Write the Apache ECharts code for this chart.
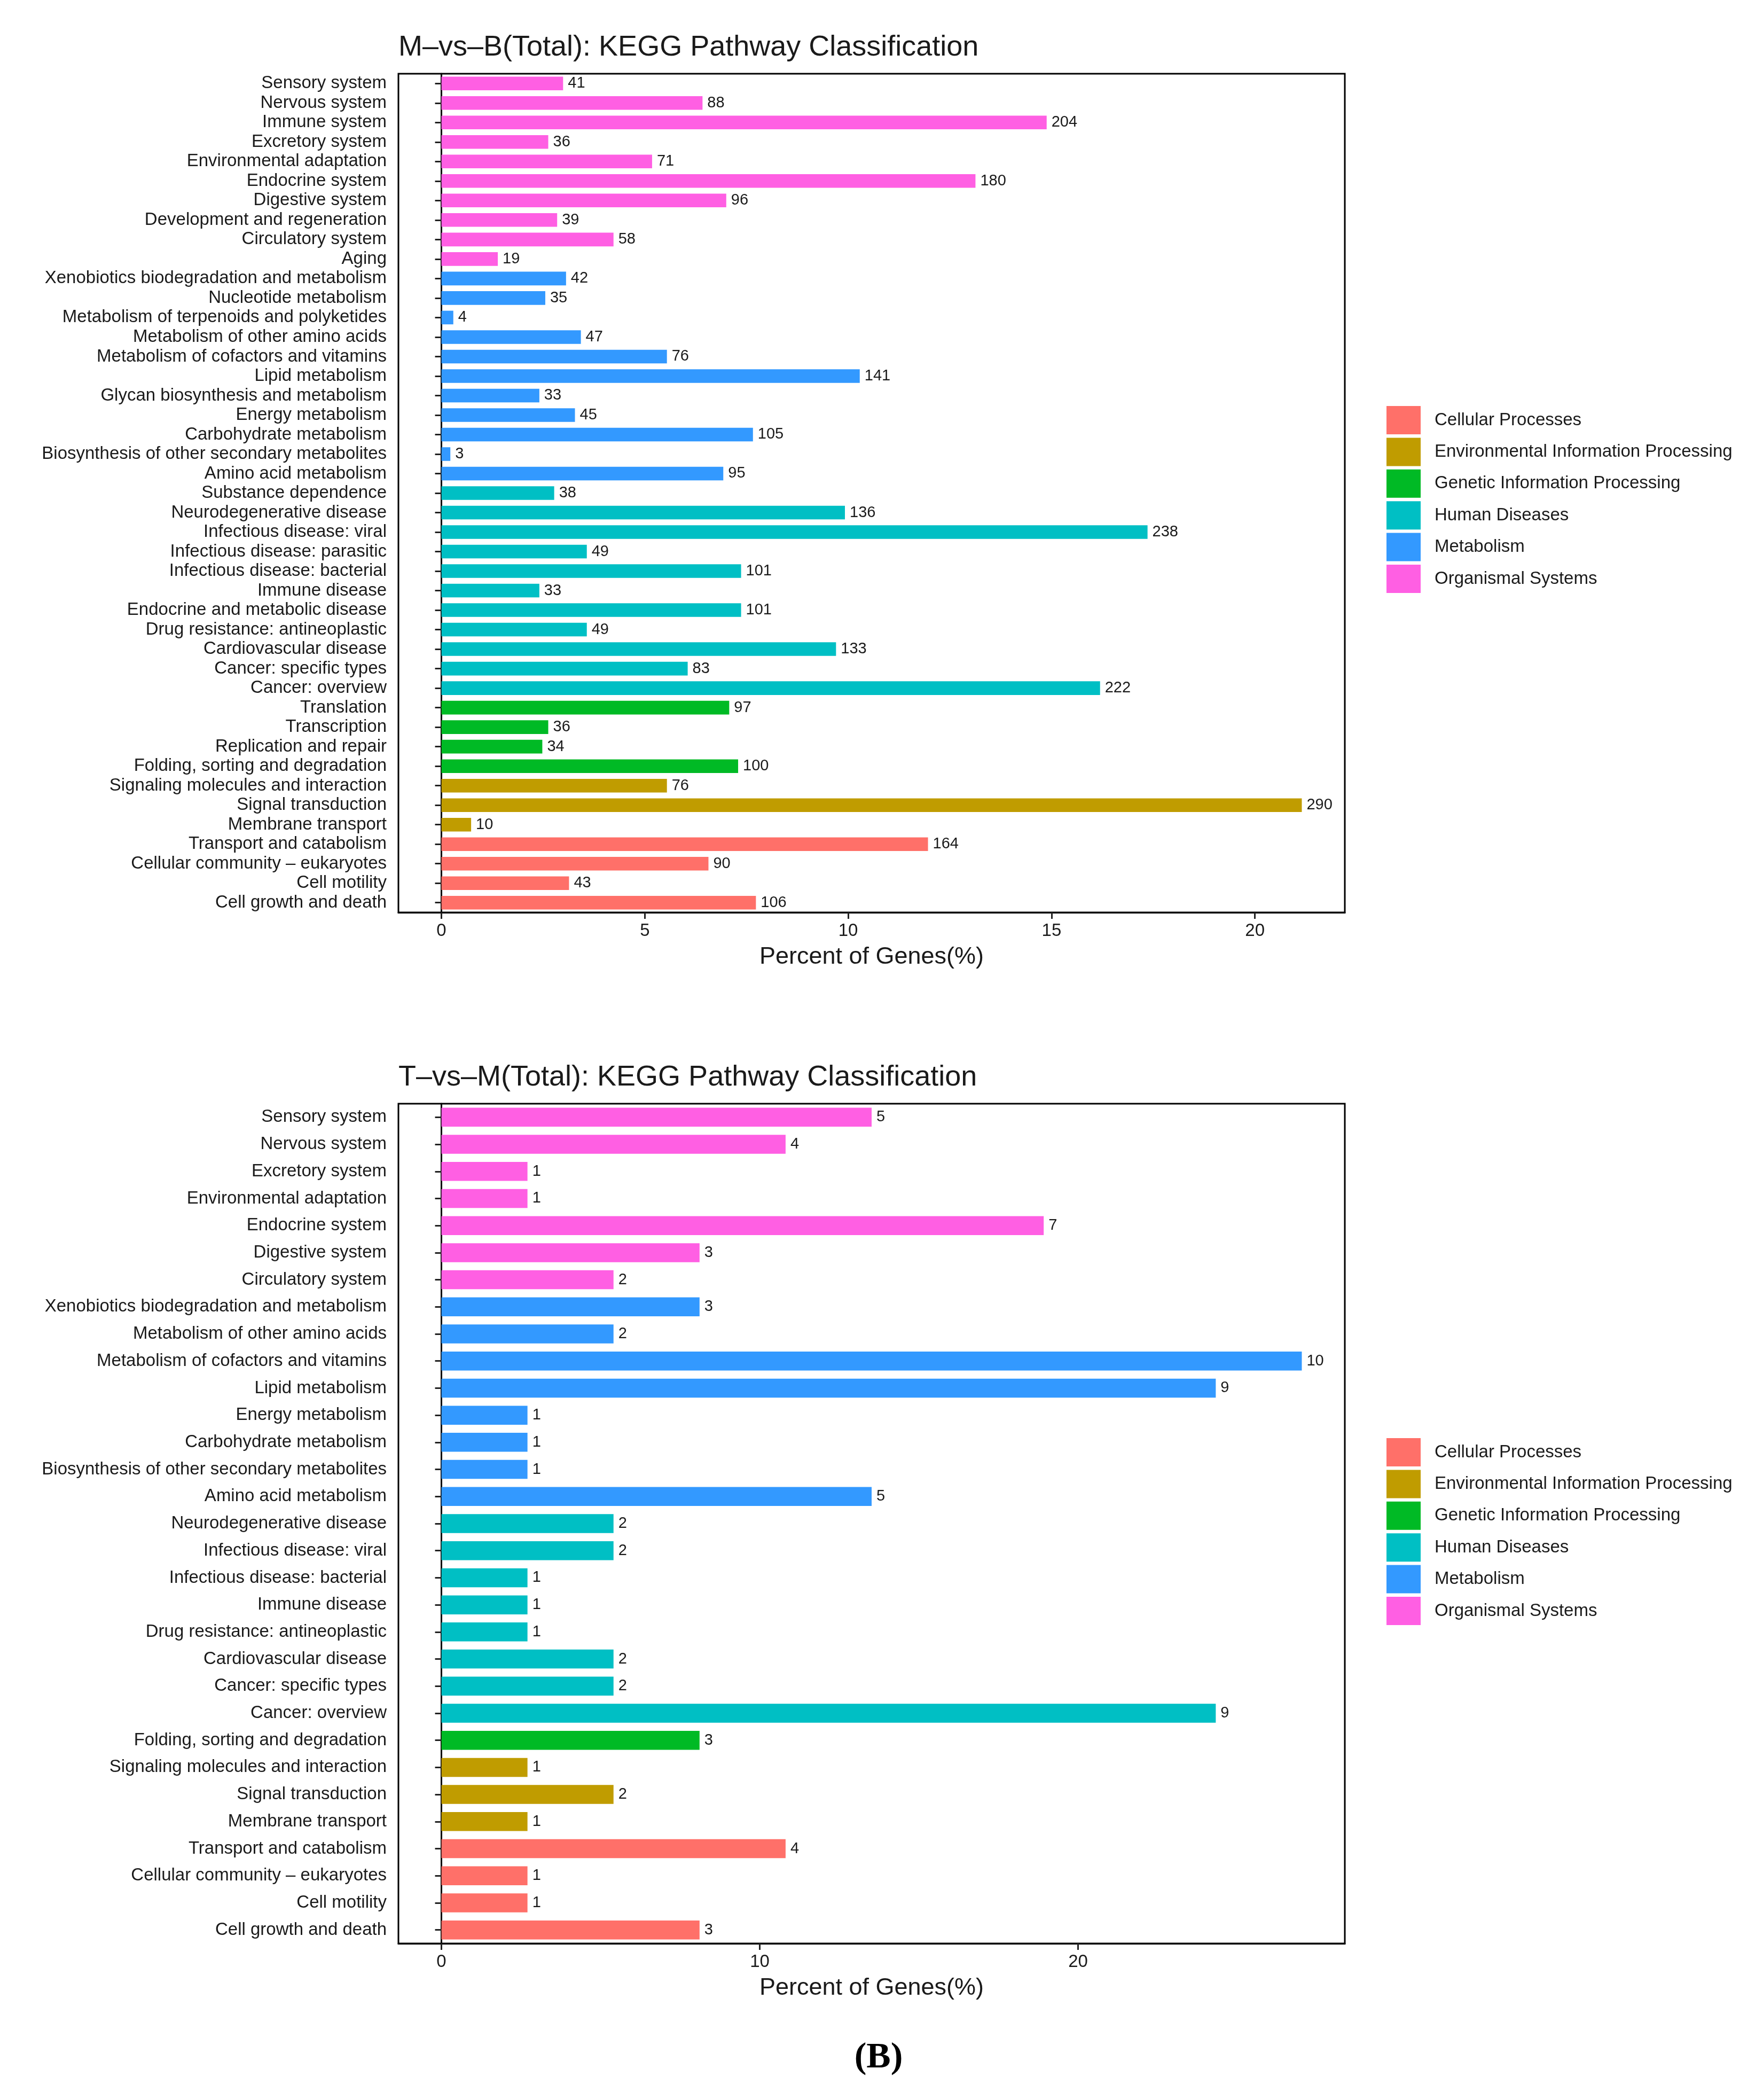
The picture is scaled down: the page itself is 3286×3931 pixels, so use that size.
<!DOCTYPE html>
<html><head><meta charset="utf-8">
<script src="https://cdn.jsdelivr.net/npm/echarts@6/dist/echarts.min.js"></script>
<style>html,body{margin:0;padding:0;background:#fff}#c{width:3286px;height:3931px}</style>
</head><body><div id="c"></div>
<script>
// Legend groups (order as in legend) and colours
const groupCodes = ['CP', 'EIP', 'GIP', 'HD', 'M', 'OS'];
const groupNames = ['Cellular Processes', 'Environmental Information Processing', 'Genetic Information Processing', 'Human Diseases', 'Metabolism', 'Organismal Systems'];
const groupColors = ['#FF7069', '#C09C00', '#00BA25', '#00BFC4', '#3399FF', '#FF5FE3'];

// Chart 1: M-vs-B (top to bottom)
const title1 = 'M\u2013vs\u2013B(Total): KEGG Pathway Classification';
const cats1 = [
  'Sensory system', 'Nervous system', 'Immune system', 'Excretory system', 'Environmental adaptation',
  'Endocrine system', 'Digestive system', 'Development and regeneration', 'Circulatory system', 'Aging',
  'Xenobiotics biodegradation and metabolism', 'Nucleotide metabolism', 'Metabolism of terpenoids and polyketides',
  'Metabolism of other amino acids', 'Metabolism of cofactors and vitamins', 'Lipid metabolism',
  'Glycan biosynthesis and metabolism', 'Energy metabolism', 'Carbohydrate metabolism',
  'Biosynthesis of other secondary metabolites', 'Amino acid metabolism',
  'Substance dependence', 'Neurodegenerative disease', 'Infectious disease: viral', 'Infectious disease: parasitic',
  'Infectious disease: bacterial', 'Immune disease', 'Endocrine and metabolic disease', 'Drug resistance: antineoplastic',
  'Cardiovascular disease', 'Cancer: specific types', 'Cancer: overview',
  'Translation', 'Transcription', 'Replication and repair', 'Folding, sorting and degradation',
  'Signaling molecules and interaction', 'Signal transduction', 'Membrane transport',
  'Transport and catabolism', 'Cellular community \u2013 eukaryotes', 'Cell motility', 'Cell growth and death'
];
const counts1 = [41, 88, 204, 36, 71, 180, 96, 39, 58, 19,
  42, 35, 4, 47, 76, 141, 33, 45, 105, 3, 95,
  38, 136, 238, 49, 101, 33, 101, 49, 133, 83, 222,
  97, 36, 34, 100,
  76, 290, 10,
  164, 90, 43, 106];
const groups1 = ['OS','OS','OS','OS','OS','OS','OS','OS','OS','OS',
  'M','M','M','M','M','M','M','M','M','M','M',
  'HD','HD','HD','HD','HD','HD','HD','HD','HD','HD','HD',
  'GIP','GIP','GIP','GIP',
  'EIP','EIP','EIP',
  'CP','CP','CP','CP'];
const total1 = 1371;
const ticks1 = [0, 5, 10, 15, 20];

// Chart 2: T-vs-M (top to bottom)
const title2 = 'T\u2013vs\u2013M(Total): KEGG Pathway Classification';
const cats2 = [
  'Sensory system', 'Nervous system', 'Excretory system', 'Environmental adaptation', 'Endocrine system',
  'Digestive system', 'Circulatory system',
  'Xenobiotics biodegradation and metabolism', 'Metabolism of other amino acids', 'Metabolism of cofactors and vitamins',
  'Lipid metabolism', 'Energy metabolism', 'Carbohydrate metabolism', 'Biosynthesis of other secondary metabolites',
  'Amino acid metabolism',
  'Neurodegenerative disease', 'Infectious disease: viral', 'Infectious disease: bacterial', 'Immune disease',
  'Drug resistance: antineoplastic', 'Cardiovascular disease', 'Cancer: specific types', 'Cancer: overview',
  'Folding, sorting and degradation',
  'Signaling molecules and interaction', 'Signal transduction', 'Membrane transport',
  'Transport and catabolism', 'Cellular community \u2013 eukaryotes', 'Cell motility', 'Cell growth and death'
];
const counts2 = [5, 4, 1, 1, 7, 3, 2,
  3, 2, 10, 9, 1, 1, 1, 5,
  2, 2, 1, 1, 1, 2, 2, 9,
  3,
  1, 2, 1,
  4, 1, 1, 3];
const groups2 = ['OS','OS','OS','OS','OS','OS','OS',
  'M','M','M','M','M','M','M','M',
  'HD','HD','HD','HD','HD','HD','HD','HD',
  'GIP',
  'EIP','EIP','EIP',
  'CP','CP','CP','CP'];
const total2 = 37;
const ticks2 = [0, 10, 20];

const FONT = "'Liberation Sans', Arial, Helvetica, sans-serif";
const TXT = '#1a1a1a';

function buildSeries(cats, counts, groups, total, axisIdx) {
  return groupCodes.map((code, gi) => ({
    name: groupNames[gi],
    type: 'bar',
    xAxisIndex: axisIdx,
    yAxisIndex: axisIdx,
    stack: 'chart' + axisIdx,
    barCategoryGap: '30%',
    itemStyle: { color: groupColors[gi] },
    emphasis: { disabled: true },
    label: {
      show: true, position: 'right', distance: 9,
      fontFamily: FONT, fontSize: 29, color: TXT,
      formatter: p => String(counts[p.dataIndex])
    },
    data: cats.map((c, i) => groups[i] === code ? counts[i] / total * 100 : null)
  }));
}

function pctMax(counts, total) { return Math.max(...counts) / total * 100; }

const max1 = pctMax(counts1, total1), max2 = pctMax(counts2, total2);

function xAxisFor(gridIndex, max, ticks) {
  return {
    type: 'value', gridIndex,
    min: -max * 0.05, max: max * 1.05,
    splitLine: { show: false },
    axisLine: { show: true, onZero: false, lineStyle: { color: '#000', width: 3 } },
    axisTick: { show: true, length: 12, customValues: ticks, lineStyle: { color: '#222', width: 3 } },
    axisLabel: { customValues: ticks, fontFamily: FONT, fontSize: 33, color: TXT, margin: 18 },
    name: 'Percent of Genes(%)', nameLocation: 'middle', nameGap: 61,
    nameTextStyle: { fontFamily: FONT, fontSize: 45, color: TXT }
  };
}
function yAxisFor(gridIndex, cats) {
  return {
    type: 'category', gridIndex, data: cats, inverse: true,
    axisLine: { show: true, lineStyle: { color: '#000', width: 3 } },
    axisTick: { show: true, length: 12, alignWithLabel: true, lineStyle: { color: '#222', width: 3 } },
    axisLabel: { interval: 0, fontFamily: FONT, fontSize: 33, color: TXT, margin: 22 },
    splitLine: { show: false }
  };
}
function legendFor(top) {
  return {
    orient: 'vertical', left: 2596, top, padding: 0,
    itemWidth: 64, itemHeight: 53, itemGap: 6.4, icon: 'rect',
    selectedMode: false,
    textStyle: { fontFamily: FONT, fontSize: 33, color: TXT, padding: [0, 0, 0, 21] },
    data: groupNames
  };
}

const chart = echarts.init(document.getElementById('c'), null, { renderer: 'canvas' });
chart.setOption({
  animation: false,
  backgroundColor: '#fff',
  title: [
    { text: title1, left: 746, top: 62, padding: 0, textStyle: { fontFamily: FONT, fontSize: 54, fontWeight: 'normal', color: TXT } },
    { text: title2, left: 746, top: 1990, padding: 0, textStyle: { fontFamily: FONT, fontSize: 54, fontWeight: 'normal', color: TXT } },
    { text: '(B)', left: 1645, top: 3818, padding: 0, textAlign: 'center', textStyle: { fontFamily: "'Liberation Serif', 'Times New Roman', serif", fontSize: 68, fontWeight: 'bold', color: '#000' } }
  ],
  legend: [legendFor(760), legendFor(2692)],
  grid: [
    { left: 746, top: 138, width: 1772, height: 1570, show: true, borderColor: '#000', borderWidth: 3, backgroundColor: '#fff', containLabel: false },
    { left: 746, top: 2066, width: 1772, height: 1572, show: true, borderColor: '#000', borderWidth: 3, backgroundColor: '#fff', containLabel: false }
  ],
  xAxis: [xAxisFor(0, max1, ticks1), xAxisFor(1, max2, ticks2)],
  yAxis: [yAxisFor(0, cats1), yAxisFor(1, cats2)],
  series: [
    ...buildSeries(cats1, counts1, groups1, total1, 0),
    ...buildSeries(cats2, counts2, groups2, total2, 1)
  ]
});
</script>
</body></html>
